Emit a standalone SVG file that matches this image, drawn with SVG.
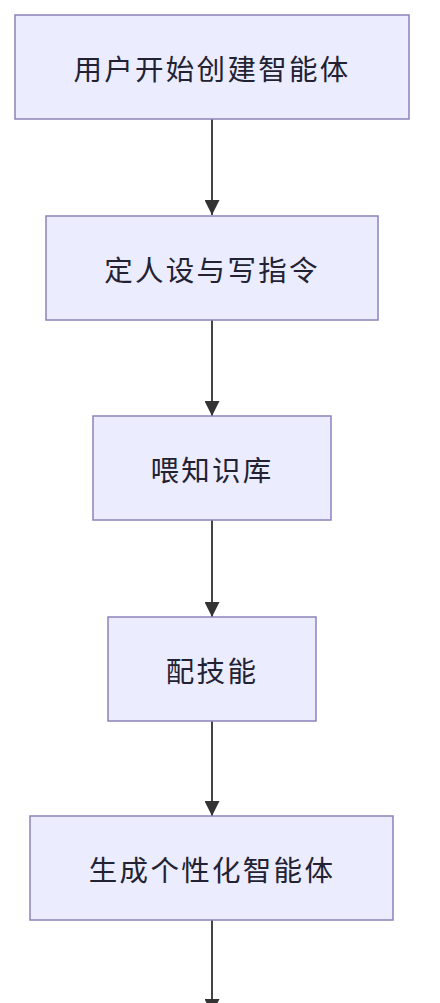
<svg xmlns="http://www.w3.org/2000/svg" width="440" height="1003" viewBox="0 0 440 1003">
<defs>
<style>
.node rect{fill:#ECECFF;stroke:#8C82B8;stroke-width:1.5}
.node text{font-family:"Noto Sans CJK SC","Noto Sans",sans-serif;font-size:28.5px;fill:#222233;text-anchor:middle;dominant-baseline:central;letter-spacing:2.3px}
.edge{stroke:#444;stroke-width:2;fill:none;marker-end:url(#arrow)}
</style>
<marker id="arrow" viewBox="0 0 10 10" refX="10" refY="5" markerWidth="15" markerHeight="15" markerUnits="userSpaceOnUse" orient="auto">
<path d="M0,0 L10,5 L0,10 z" fill="#333"/>
</marker>
</defs>
<rect width="440" height="1003" fill="#fff"/>
<g id="connectors">
<line class="edge" x1="212" y1="119" x2="212" y2="215"/>
<line class="edge" x1="212" y1="320" x2="212" y2="416"/>
<line class="edge" x1="212" y1="520" x2="212" y2="617"/>
<line class="edge" x1="212" y1="721" x2="212" y2="816"/>
<line class="edge" x1="212" y1="920" x2="212" y2="1014"/>
</g>
<g id="n1" class="node"><rect x="15" y="15" width="394" height="104"/><text x="212" y="67">用户开始创建智能体</text></g>
<g id="n2" class="node"><rect x="46" y="216" width="332" height="104"/><text x="212" y="268">定人设与写指令</text></g>
<g id="n3" class="node"><rect x="93" y="416" width="238" height="104"/><text x="212" y="468">喂知识库</text></g>
<g id="n4" class="node"><rect x="108" y="617" width="208" height="104"/><text x="212" y="669">配技能</text></g>
<g id="n5" class="node"><rect x="30" y="816" width="363" height="104"/><text x="212" y="868">生成个性化智能体</text></g>
</svg>
